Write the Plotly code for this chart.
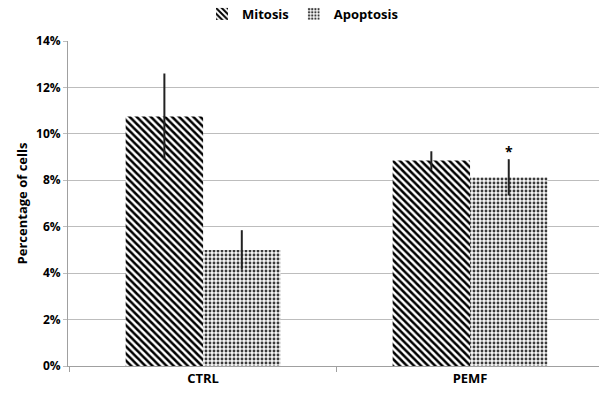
import plotly.graph_objects as go

categories = ["CTRL", "PEMF"]
mitosis = [10.75, 8.85]
mitosis_err = [1.85, 0.4]
apoptosis = [5.0, 8.13]
apoptosis_err = [0.85, 0.78]
y_ticks = [0, 2, 4, 6, 8, 10, 12, 14]
y_ticklabels = [f"{v}%" for v in y_ticks]

FONT = "'Open Sans', 'Liberation Sans', sans-serif"

fig = go.Figure()
fig.add_trace(go.Bar(
    name="<b>Mitosis</b>", x=categories, y=mitosis,
    marker=dict(color="white", line=dict(width=0),
                pattern=dict(shape="\\", fgcolor="black", fgopacity=1, bgcolor="white",
                             size=5, solidity=0.5)),
    error_y=dict(type="data", array=mitosis_err, color="#222", thickness=2, width=0),
))
fig.add_trace(go.Bar(
    name="<b>Apoptosis</b>", x=categories, y=apoptosis,
    marker=dict(color="white", line=dict(width=0),
                pattern=dict(shape=".", fgcolor="#3a3a3a", fgopacity=1, bgcolor="#f4f4f4",
                             size=4, solidity=0.4)),
    error_y=dict(type="data", array=apoptosis_err, color="#222", thickness=2, width=0),
))

fig.add_annotation(x=1.145, y=9.25, text="<b>*</b>", showarrow=False,
                   font=dict(size=14, color="black", family=FONT), yanchor="middle")

fig.update_layout(
    width=599, height=399,
    margin=dict(l=68, r=0, t=41, b=33),
    paper_bgcolor="white", plot_bgcolor="white",
    barmode="group", bargap=0.42, bargroupgap=0,
    font=dict(family=FONT, color="black"),
    legend=dict(orientation="h", xref="container", yref="container",
                x=0.505, y=0.965, xanchor="center", yanchor="middle",
                font=dict(size=13, family=FONT), itemwidth=30, traceorder="normal"),
    xaxis=dict(range=[-0.506, 1.483], showgrid=False, showline=True, linecolor="#a0a0a0",
               linewidth=1, ticks="outside", tickson="boundaries", ticklen=5, tickcolor="#a0a0a0",
               tickfont=dict(size=13, family=FONT), tickprefix="<b>", ticksuffix="</b>"),
    yaxis=dict(range=[0, 14], tickvals=y_ticks, ticktext=[f"<b>{t}</b>" for t in y_ticklabels],
               showgrid=True, gridcolor="#bdbdbd", gridwidth=1, showline=True, linecolor="#a0a0a0",
               ticks="outside", ticklen=4, tickcolor="#bdbdbd", zeroline=False,
               tickfont=dict(size=12, family=FONT),
               title=dict(text="<b>Percentage of cells</b>", font=dict(size=13, family=FONT), standoff=5)),
)

fig.write_html("out.html")
